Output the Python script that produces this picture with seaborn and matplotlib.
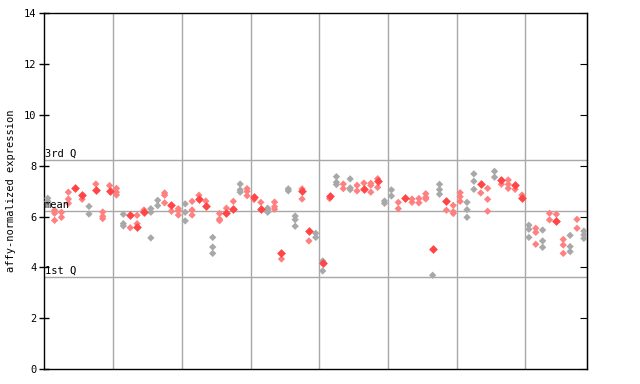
import matplotlib
matplotlib.use("Agg")
import matplotlib.pyplot as plt
import seaborn as sns
import pandas as pd

# expression values per sample column (0..78)
sample_values = [
    [6.72, 6.60], [6.25, 6.13, 5.85], [6.17, 5.97], [6.96, 6.69, 6.52], [7.11],
    [6.86, 6.68], [6.40, 6.10], [7.28, 7.05], [6.18, 6.01, 5.92], [7.22, 7.02],
    [7.11, 6.96, 6.85], [6.09, 5.72, 5.63], [6.08, 5.56], [6.05, 5.72, 5.60], [6.26, 6.17],
    [6.31, 6.17, 5.16], [6.64, 6.43], [6.93, 6.84, 6.54], [6.44, 6.21], [6.31, 6.23, 6.06],
    [6.50, 6.17, 5.83], [6.60, 6.26, 6.06], [6.84, 6.71], [6.61, 6.43], [5.18, 4.80, 4.55],
    [6.12, 5.90, 5.84], [6.33, 6.15], [6.60, 6.30], [7.28, 7.05, 6.96], [7.10, 6.99, 6.82],
    [6.78, 6.67], [6.56, 6.31], [6.33, 6.26, 6.17], [6.57, 6.39, 6.29], [4.58, 4.33],
    [7.09, 7.01], [6.02, 5.88, 5.62], [7.09, 7.01, 6.69], [5.42, 5.04], [5.34, 5.18],
    [4.25, 4.16, 3.86], [6.82, 6.71], [7.57, 7.35, 7.26], [7.28, 7.10], [7.48, 7.13, 7.06],
    [7.23, 7.01], [7.32, 7.10], [7.31, 7.23, 6.96], [7.49, 7.40, 7.15], [6.61, 6.52],
    [7.05, 6.81], [6.56, 6.31], [6.73], [6.69, 6.56], [6.71, 6.54],
    [6.90, 6.76, 6.69], [4.72, 3.69], [7.27, 7.06, 6.88], [6.61, 6.25], [6.44, 6.19, 6.12],
    [6.94, 6.78, 6.60], [6.56, 6.27, 5.97], [7.68, 7.39, 7.07], [7.27, 6.93], [7.11, 6.68, 6.21],
    [7.78, 7.55], [7.45, 7.27], [7.44, 7.27, 7.11], [7.26, 7.07], [6.85, 6.74],
    [5.66, 5.50, 5.18], [5.54, 5.38, 4.91], [5.47, 5.04, 4.79], [6.13, 5.87], [6.09, 5.84],
    [5.10, 4.88, 4.55], [5.26, 4.82, 4.62], [5.89, 5.54], [5.43, 5.28, 5.14],
]
filled_samples = [4, 5, 7, 9, 12, 13, 14, 18, 22, 23, 26, 27, 30, 31, 34, 37, 38, 40, 41,
                  46, 48, 52, 56, 58, 63, 66, 68, 69, 74]
filled_values = [7.11, 6.86, 7.05, 7.02, 6.08, 5.60, 6.17, 6.44, 6.71, 6.43, 6.15, 6.30, 6.78,
                 6.31, 4.58, 7.01, 5.42, 4.16, 6.82, 7.10, 7.40, 6.73, 4.72, 6.61, 7.27, 7.45,
                 7.26, 6.74, 5.84]
gray_samples = [0, 6, 11, 15, 16, 20, 24, 28, 32, 35, 36, 39, 40, 42, 44, 49, 50, 56, 57,
                61, 62, 65, 70, 72, 76, 78]
q3_value, mean_value, q1_value = 8.22, 6.21, 3.62
ref_labels = ["3rd Q", "mean", "1st Q"]
y_ticks = [0, 2, 4, 6, 8, 10, 12, 14]

filled_set = set(zip(filled_samples, filled_values))
rows = []
for i, vals in enumerate(sample_values):
    for v in vals:
        if (i, v) in filled_set:
            continue
        rows.append({"sample": i, "expr": v,
                     "series": "gray" if i in gray_samples else "red"})
hollow = pd.DataFrame(rows)
filled = pd.DataFrame({"sample": filled_samples, "expr": filled_values})

fig = plt.figure(figsize=(6.4, 3.84), dpi=100)
ax = fig.add_axes([44.3 / 640, 1 - 369 / 384, 543 / 640, 355.7 / 384])

mono = "DejaVu Sans Mono"
grid_c = "#a8a8a8"
for xg in [9.5, 19.5, 29.5, 39.5, 49.5, 59.5, 69.5]:
    ax.axvline(xg, color=grid_c, lw=1, zorder=0)
for yv in [q3_value, mean_value, q1_value]:
    ax.axhline(yv, color=grid_c, lw=1, zorder=0)

sns.scatterplot(data=hollow, x="sample", y="expr", hue="series",
                palette={"red": "#ff8080", "gray": "#a8a8a8"}, marker="D", s=14,
                linewidth=0, legend=False, ax=ax, zorder=3)
sns.scatterplot(data=filled, x="sample", y="expr", color="#ff4545", marker="D", s=20,
                linewidth=0, legend=False, ax=ax, zorder=4)

ax.set_xlim(-0.5, 78.5)
ax.set_ylim(0, 14)
ax.set_yticks(y_ticks)
ax.set_yticklabels([str(t) for t in y_ticks], fontfamily=mono, fontsize=7.5)
ax.set_xticks([])
ax.set_xlabel("")
ax.set_ylabel("affy-normalized expression", fontfamily=mono, fontsize=7.5, labelpad=6)
ax.tick_params(axis="y", direction="inout", length=7, width=1, pad=2)
ax2 = ax.secondary_yaxis("right")
ax2.set_yticks(y_ticks)
ax2.set_yticklabels([])
ax2.tick_params(direction="in", length=5)
for s in ax.spines.values():
    s.set_color("black")
    s.set_linewidth(1)

for yv, lab in zip([q3_value, mean_value, q1_value], ref_labels):
    ax.text(-0.4, yv + 0.05, lab, fontfamily=mono, fontsize=7.5, va="bottom", ha="left",
            zorder=5)

fig.savefig("out.png", dpi=100)
